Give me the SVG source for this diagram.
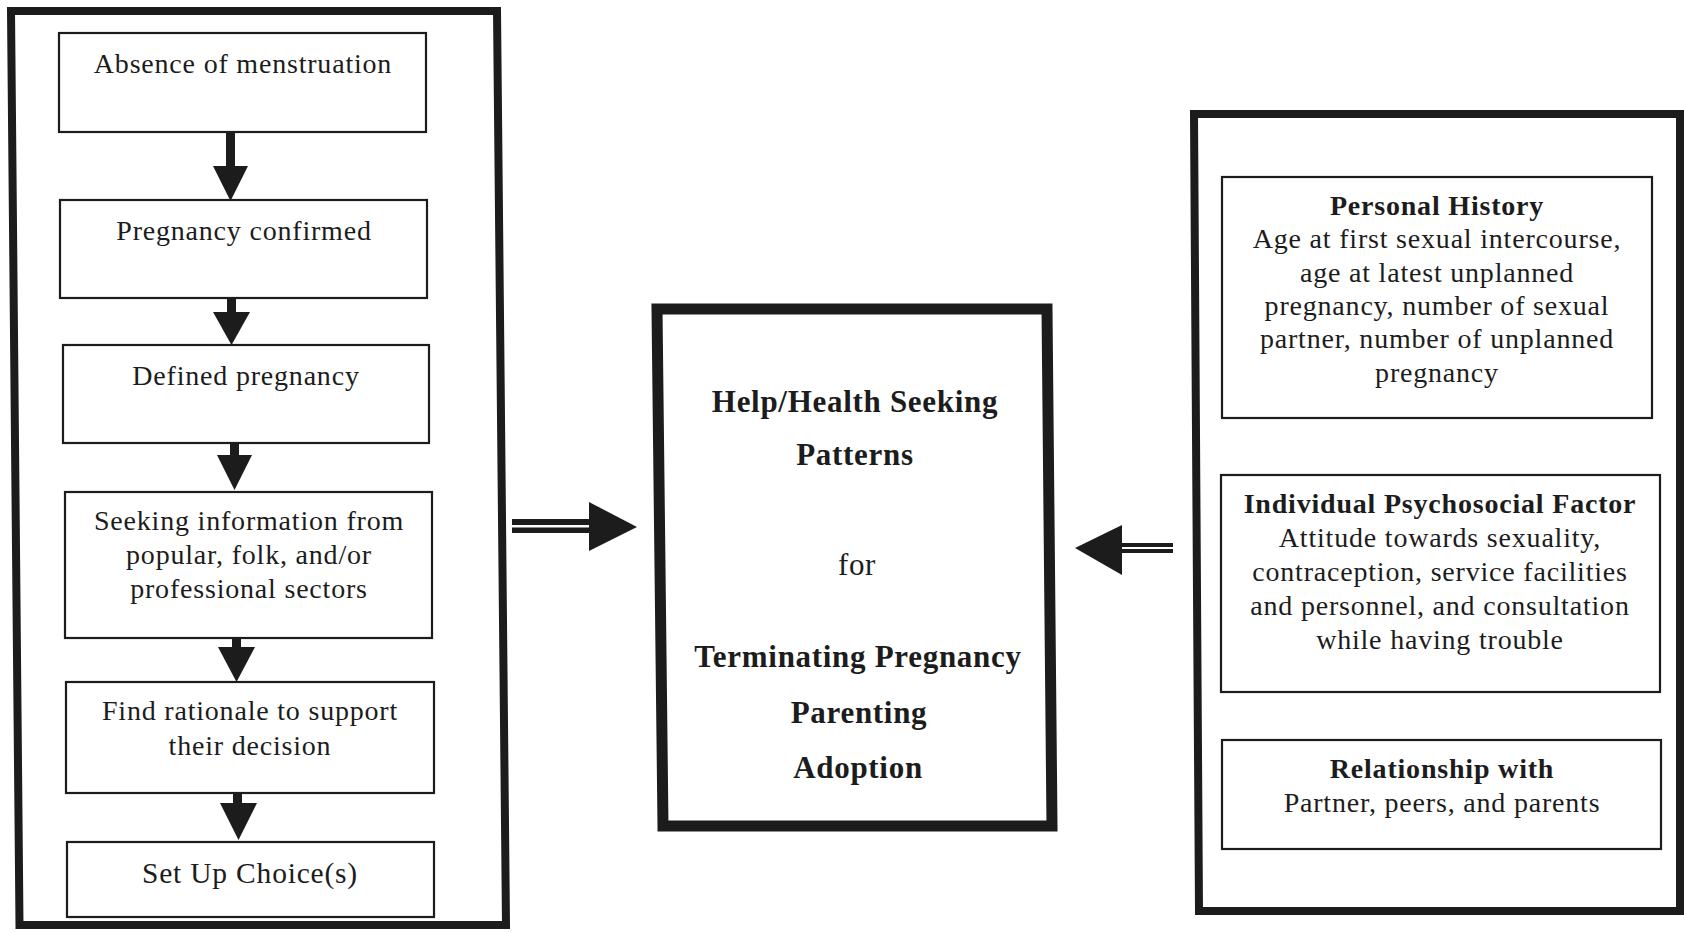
<svg xmlns="http://www.w3.org/2000/svg" width="1684" height="933" viewBox="0 0 1684 933">
<style>
  .frame{fill:none;stroke:#1c1c1c;stroke-linejoin:miter}
  .box{fill:none;stroke:#1c1c1c;stroke-width:2.2}
  .t{font-family:"Liberation Serif","Times New Roman",serif;font-size:28px;letter-spacing:0.8px;fill:#1c1c1c;text-anchor:middle}
  .b{font-weight:bold}
  .m{font-size:31px;letter-spacing:0.7px}
  .shaft{fill:#1c1c1c}
  .head{fill:#1c1c1c}
</style>
<rect width="1684" height="933" fill="#ffffff"/>

<g id="left-panel">
  <path class="frame" stroke-width="8" d="M11,11 L497,11 L506,925 L19.5,925 Z"/>
</g>
<g id="n1">
  <rect class="box" x="59" y="33" width="367" height="99"/>
  <text class="t" x="243" y="73">Absence of menstruation</text>
</g>
<g id="n2">
  <rect class="box" x="60" y="200" width="367" height="98"/>
  <text class="t" x="244" y="240">Pregnancy confirmed</text>
</g>
<g id="n3">
  <rect class="box" x="63" y="345" width="366" height="98"/>
  <text class="t" x="246" y="385">Defined pregnancy</text>
</g>
<g id="n4">
  <rect class="box" x="65" y="492" width="367" height="146"/>
  <text class="t" x="249" y="530">Seeking information from</text>
  <text class="t" x="249" y="564">popular, folk, and/or</text>
  <text class="t" x="249" y="598">professional sectors</text>
</g>
<g id="n5">
  <rect class="box" x="66" y="682" width="368" height="111"/>
  <text class="t" x="250" y="720">Find rationale to support</text>
  <text class="t" x="250" y="755">their decision</text>
</g>
<g id="n6">
  <rect class="box" x="67" y="842" width="367" height="75"/>
  <text class="t" x="250" y="883" style="font-size:29.5px">Set Up Choice(s)</text>
</g>

<g id="center">
  <path class="frame" stroke-width="11" d="M657,309 L1047,309 L1052,826 L663,826 Z"/>
  <text class="t b m" x="855" y="412">Help/Health Seeking</text>
  <text class="t b m" x="855" y="465">Patterns</text>
  <text class="t m" x="857" y="575">for</text>
  <text class="t b m" x="858" y="667">Terminating Pregnancy</text>
  <text class="t b m" x="859" y="723">Parenting</text>
  <text class="t b m" x="858" y="778">Adoption</text>
</g>

<g id="right-panel">
  <path class="frame" stroke-width="8" d="M1194,114 L1680,114 L1680,911 L1199,911 Z"/>
</g>
<g id="r1">
  <rect class="box" x="1222" y="177" width="430" height="241"/>
  <text class="t b" x="1437" y="215">Personal History</text>
  <text class="t" x="1437" y="248">Age at first sexual intercourse,</text>
  <text class="t" x="1437" y="282">age at latest unplanned</text>
  <text class="t" x="1437" y="315">pregnancy, number of sexual</text>
  <text class="t" x="1437" y="348">partner, number of unplanned</text>
  <text class="t" x="1437" y="382">pregnancy</text>
</g>
<g id="r2">
  <rect class="box" x="1221" y="475" width="439" height="217"/>
  <text class="t b" x="1440" y="513">Individual Psychosocial Factor</text>
  <text class="t" x="1440" y="547">Attitude towards sexuality,</text>
  <text class="t" x="1440" y="581">contraception, service facilities</text>
  <text class="t" x="1440" y="615">and personnel, and consultation</text>
  <text class="t" x="1440" y="649">while having trouble</text>
</g>
<g id="r3">
  <rect class="box" x="1222" y="740" width="439" height="109"/>
  <text class="t b" x="1442" y="778">Relationship with</text>
  <text class="t" x="1442" y="812">Partner, peers, and parents</text>
</g>

<g id="connectors">
  <rect class="shaft" x="226" y="132" width="9" height="36"/>
  <polygon class="head" points="213,166 248,166 230.5,201"/>
  <rect class="shaft" x="227" y="298" width="9" height="16"/>
  <polygon class="head" points="213,312 250,312 231.5,345"/>
  <rect class="shaft" x="230" y="443" width="9" height="14"/>
  <polygon class="head" points="217,455 252,455 234.5,490"/>
  <rect class="shaft" x="232" y="638" width="9" height="11"/>
  <polygon class="head" points="218,647 255,647 236.5,682"/>
  <rect class="shaft" x="233" y="793" width="9" height="12"/>
  <polygon class="head" points="220,803 257,803 238.5,840"/>

  <rect class="shaft" x="512" y="519" width="79" height="6"/>
  <rect class="shaft" x="512" y="527.5" width="79" height="5.5"/>
  <polygon class="head" points="589,502 637,527 589,551"/>

  <rect class="shaft" x="1120" y="543" width="53" height="4"/>
  <rect class="shaft" x="1120" y="549" width="53" height="4"/>
  <polygon class="head" points="1122,525 1122,575 1075,548"/>
</g>
</svg>
